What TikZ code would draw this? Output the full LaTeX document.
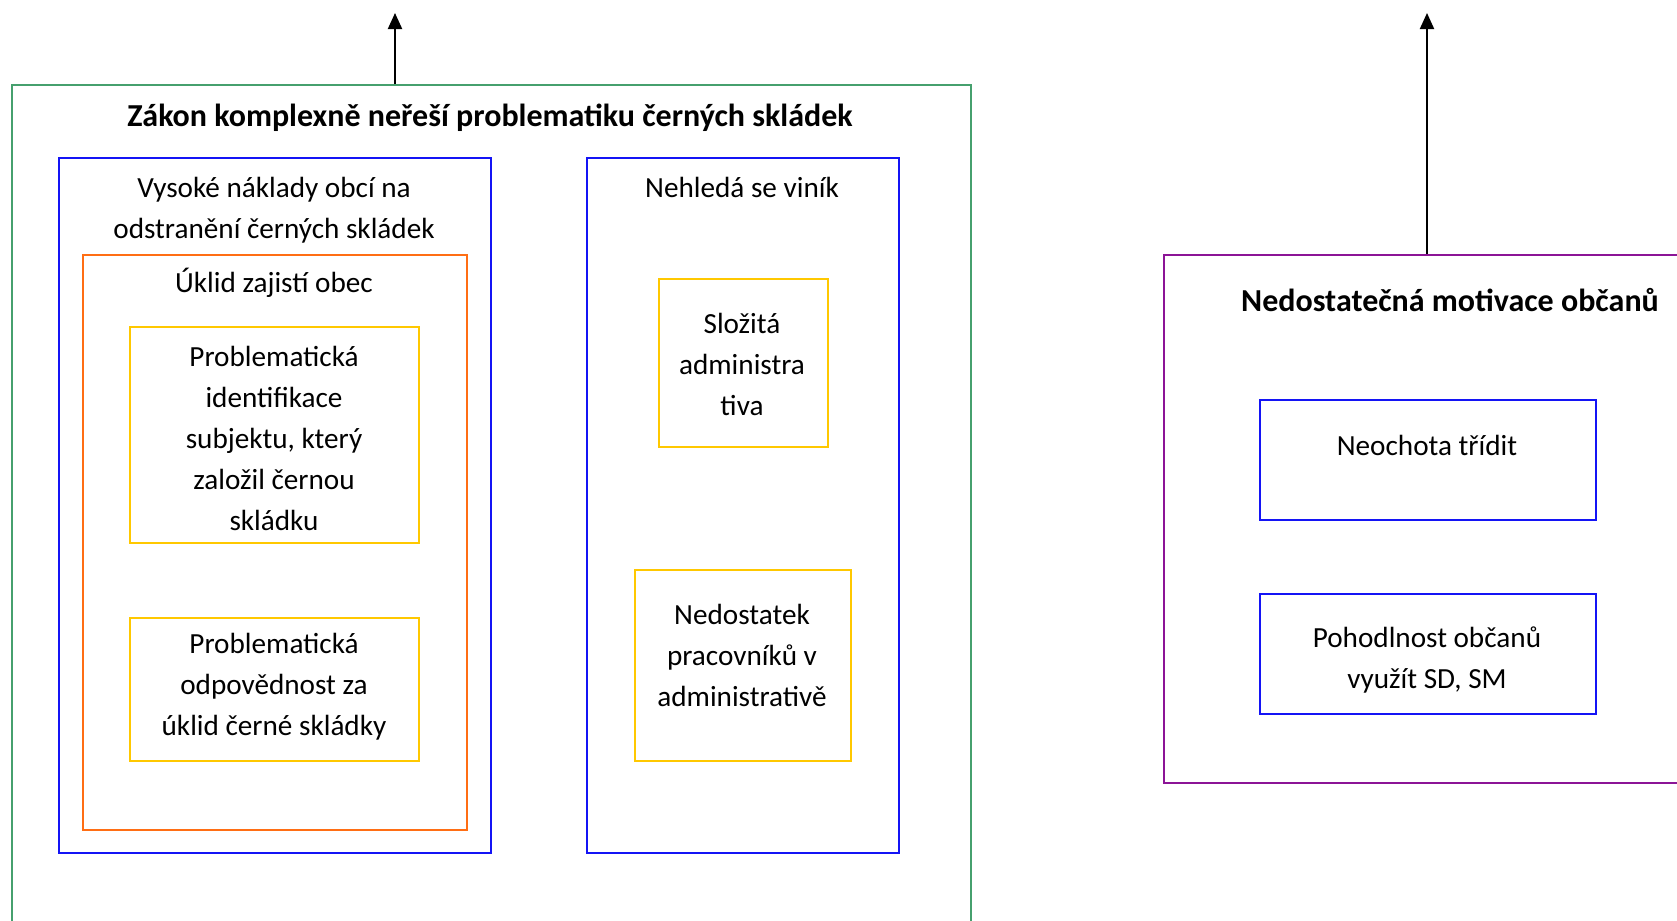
\documentclass[tikz,border=0pt]{standalone}
\usepackage{fontspec}
\setmainfont{Carlito}
\usetikzlibrary{arrows.meta, positioning}
\definecolor{zakongreen}{RGB}{70, 160, 110}
\definecolor{causeblue}{RGB}{20, 20, 245}
\definecolor{obecorange}{RGB}{255, 110, 20}
\definecolor{detailyellow}{RGB}{255, 200, 0}
\definecolor{motivpurple}{RGB}{140, 20, 150}
\tikzset{
  frame/.style 2 args={rectangle, draw=#1, line width=1pt, anchor=north west,
                minimum width=#2*0.5pt, inner sep=0pt},
  txt/.style={align=center, font=\fontsize{14.6}{20.5}\selectfont},
  head/.style={align=center, font=\fontsize{16}{20.5}\selectfont\bfseries},
  arrow/.style={-{Triangle[length=8pt, width=7pt]}, line width=1pt, black},
}

\begin{document}
\begin{tikzpicture}[x=0.5pt, y=-0.5pt]
  \useasboundingbox (0,0) rectangle (1677,921);
  \clip (0,0) rectangle (1677,921);

  % left group
  \node[frame={zakongreen}{959}, minimum height=950*0.5pt] (zakon) at (11,84) {};
  \node[head] (zakonT) at (490,118) {Zákon komplexně neřeší problematiku černých skládek};

  \node[frame={causeblue}{432}, minimum height=695*0.5pt] (naklady) at (58,157) {};
  \node[txt] (nakladyT) at (274,210) {Vysoké náklady obcí na\\odstranění černých skládek};

  \node[frame={obecorange}{384}, minimum height=575*0.5pt] (obec) at (82,254) {};
  \node[txt] (obecT) at (274,283) {Úklid zajistí obec};

  \node[frame={detailyellow}{289}, minimum height=216*0.5pt] (identif) at (129,326) {};
  \node[txt] (identifT) at (274,438) {Problematická\\identifikace\\subjektu, který\\založil černou\\skládku};

  \node[frame={detailyellow}{289}, minimum height=143*0.5pt] (odpov) at (129,617) {};
  \node[txt] (odpovT) at (274,687) {Problematická\\odpovědnost za\\úklid černé skládky};

  \node[frame={causeblue}{312}, minimum height=695*0.5pt] (vinik) at (586,157) {};
  \node[txt] (vinikT) at (742,187) {Nehledá se viník};

  \node[frame={detailyellow}{169}, minimum height=168*0.5pt] (admin) at (658,278) {};
  \node[txt] (adminT) at (742,364) {Složitá\\administra\\tiva};

  \node[frame={detailyellow}{216}, minimum height=191*0.5pt] (pracov) at (634,569) {};
  \node[txt] (pracovT) at (742,655) {Nedostatek\\pracovníků v\\administrativě};

  % right group
  \node[frame={motivpurple}{560}, minimum height=528*0.5pt] (motiv) at (1163,254) {};
  \node[head] (motivT) at (1450,300) {Nedostatečná motivace občanů};

  \node[frame={causeblue}{336}, minimum height=120*0.5pt] (neochota) at (1259,399) {};
  \node[txt] (neochotaT) at (1427,445) {Neochota třídit};

  \node[frame={causeblue}{336}, minimum height=120*0.5pt] (pohodl) at (1259,593) {};
  \node[txt] (pohodlT) at (1427,660) {Pohodlnost občanů\\využít SD, SM};

  % arrows up
  \coordinate (tipA) at (395,13);
  \coordinate (tipB) at (1427,13);
  \draw[arrow] (zakon.north west -| tipA) -- (tipA);
  \draw[arrow] (motiv.north west -| tipB) -- (tipB);
\end{tikzpicture}
\end{document}
